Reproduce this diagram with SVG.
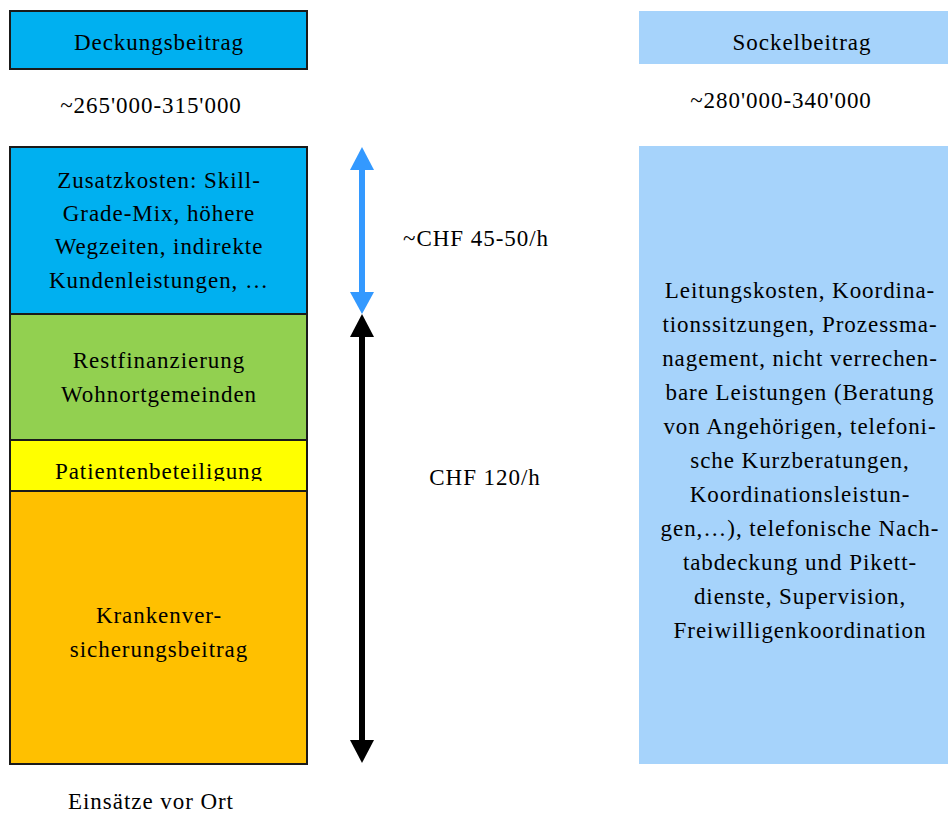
<svg xmlns="http://www.w3.org/2000/svg" width="948" height="816" viewBox="0 0 948 816">
<defs>
<style>
text{font-family:"Liberation Serif","Times New Roman",serif;font-size:23px;fill:#000;text-anchor:middle;letter-spacing:0.95px}
.box{stroke:#1a1a1a;stroke-width:2}
</style>
<clipPath id="clipY"><rect x="10" y="440" width="297" height="41"/></clipPath>
</defs>
<rect width="948" height="816" fill="#fff"/>
<g id="deckungsbeitrag">
<rect class="box" x="10" y="11" width="297" height="58" fill="#00B0F0"/>
<text x="159" y="50">Deckungsbeitrag</text>
</g>
<g id="deckung-wert"><text x="151" y="113">~265'000-315'000</text></g>
<g id="zusatzkosten">
<rect class="box" x="10" y="147" width="297" height="167" fill="#00B0F0"/>
<text x="159" y="188">Zusatzkosten: Skill-</text>
<text x="159" y="221">Grade-Mix, höhere</text>
<text x="159" y="254">Wegzeiten, indirekte</text>
<text x="159" y="288">Kundenleistungen, …</text>
</g>
<g id="restfinanzierung">
<rect class="box" x="10" y="314" width="297" height="126" fill="#92D050"/>
<text x="159" y="368">Restfinanzierung</text>
<text x="159" y="402">Wohnortgemeinden</text>
</g>
<g id="patientenbeteiligung">
<rect class="box" x="10" y="440" width="297" height="51" fill="#FFFF00"/>
<text x="159" y="479" clip-path="url(#clipY)">Patientenbeteiligung</text>
</g>
<g id="krankenversicherung">
<rect class="box" x="10" y="491" width="297" height="273" fill="#FFC000"/>
<text x="159" y="623">Krankenver-</text>
<text x="159" y="657">sicherungsbeitrag</text>
</g>
<g id="einsaetze"><text x="151" y="809">Einsätze vor Ort</text></g>
<g id="sockelbeitrag">
<rect x="639" y="11" width="309" height="53" fill="#A6D3FB"/>
<text x="802" y="50">Sockelbeitrag</text>
</g>
<g id="sockel-wert"><text x="781" y="108">~280'000-340'000</text></g>
<g id="sockel-inhalt">
<rect x="639" y="146" width="309" height="618" fill="#A6D3FB"/>
<text x="800" y="298">Leitungskosten, Koordina-</text>
<text x="800" y="332">tionssitzungen, Prozessma-</text>
<text x="800" y="366">nagement, nicht verrechen-</text>
<text x="800" y="400">bare Leistungen (Beratung</text>
<text x="800" y="434">von Angehörigen, telefoni-</text>
<text x="800" y="468">sche Kurzberatungen,</text>
<text x="800" y="502">Koordinationsleistun-</text>
<text x="800" y="536">gen,…), telefonische Nach-</text>
<text x="800" y="570">tabdeckung und Pikett-</text>
<text x="800" y="604">dienste, Supervision,</text>
<text x="800" y="638">Freiwilligenkoordination</text>
</g>
<g id="label-45"><text x="476" y="246">~CHF 45-50/h</text></g>
<g id="label-120"><text x="485" y="485">CHF 120/h</text></g>
<g id="connectors">
<line x1="362" y1="168" x2="362" y2="293" stroke="#3399FF" stroke-width="6"/>
<polygon points="362,147 350,170 374,170" fill="#3399FF"/>
<polygon points="362,314 350,292 374,292" fill="#3399FF"/>
<line x1="362" y1="335" x2="362" y2="742" stroke="#000" stroke-width="6"/>
<polygon points="362,314 350,337 374,337" fill="#000"/>
<polygon points="362,763 350,740 374,740" fill="#000"/>
</g>
</svg>
